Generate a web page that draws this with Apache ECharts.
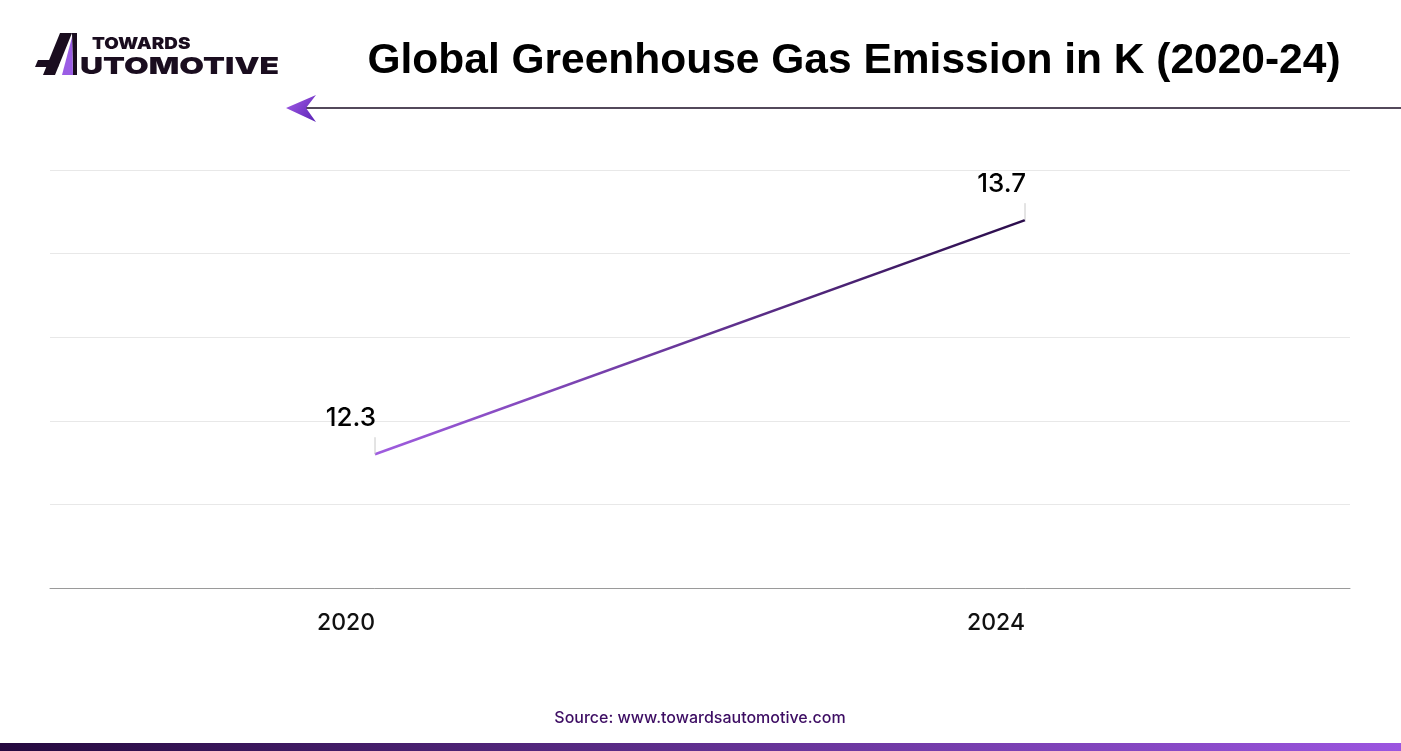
<!DOCTYPE html>
<html>
<head>
<meta charset="utf-8">
<script src="https://cdn.jsdelivr.net/npm/echarts@6/dist/echarts.min.js"></script>
<style>
html,body{margin:0;padding:0;background:#fff;}
#chart{width:1401px;height:751px;}
</style>
</head>
<body>
<div id="chart"></div>
<script>
const titleText = 'Global Greenhouse Gas Emission in K (2020-24)';
const sourceText = 'Source: www.towardsautomotive.com';
const categories = ['2020', '2024'];
const emissions = [12.3, 13.7];
const yMin = 11.5, yMax = 14, yInterval = 0.5;

const chart = echarts.init(document.getElementById('chart'));
const FONT = 'Inter, "Noto Sans", sans-serif';
const HFONT = '"Liberation Sans", Arial, sans-serif';

chart.setOption({
  backgroundColor: '#ffffff',
  animation: false,
  grid: { left: 50, right: 51, top: 170, bottom: 163 },
  xAxis: {
    type: 'category',
    data: categories,
    boundaryGap: true,
    axisLine: { show: true, lineStyle: { color: '#9a9a9a', width: 1 } },
    axisTick: { show: false },
    axisLabel: { color: '#111', fontSize: 23, fontFamily: FONT, fontWeight: 500, margin: 24, align: 'right' }
  },
  yAxis: {
    type: 'value',
    min: yMin, max: yMax, interval: yInterval,
    axisLine: { show: false },
    axisTick: { show: false },
    axisLabel: { show: false },
    splitLine: { show: true, lineStyle: { color: '#e8e8e8', width: 1 } }
  },
  graphic: [
    // logo "A" mark
    { type: 'polygon', shape: { points: [[60,33],[72,33],[55,75],[43,75]] }, style: { fill: '#1a0d1f' } },
    { type: 'polygon', shape: { points: [[38,60],[60,60],[58,67],[35,67]] }, style: { fill: '#1a0d1f' } },
    { type: 'polygon', shape: { points: [[72,33],[77,33],[77,75],[73,75]] }, style: { fill: '#1a0d1f' } },
    { type: 'polygon', shape: { points: [[72,37],[62,75],[73,75]] }, style: { fill: '#9b5de5' } },
    { type: 'text', x: 92, y: 44, scaleX: 1.14, style: { text: 'TOWARDS', fill: '#1a0d1f', font: '900 16.5px ' + FONT, textVerticalAlign: 'middle' } },
    { type: 'text', x: 80, y: 66.5, scaleX: 1.36, style: { text: 'UTOMOTIVE', fill: '#1a0d1f', font: '900 23.5px ' + FONT, textVerticalAlign: 'middle' } },
    // title
    { type: 'text', x: 854, y: 61, style: { text: titleText, fill: '#000', font: 'bold 42.5px ' + HFONT, textAlign: 'center', textVerticalAlign: 'middle' } },
    // arrow line
    { type: 'line', shape: { x1: 305, y1: 108, x2: 1401, y2: 108 }, style: { stroke: '#1a0d24', lineWidth: 1.5 } },
    { type: 'polygon', shape: { points: [[286,108],[316,95],[306,108],[316,122]] }, style: { fill: new echarts.graphic.LinearGradient(0,0,1,1,[{offset:0,color:'#a55ee8'},{offset:1,color:'#5a23b5'}]) } },
    // source
    { type: 'text', x: 700, y: 718, style: { text: sourceText, fill: '#3d0d63', font: '500 16px ' + FONT, textAlign: 'center', textVerticalAlign: 'middle' } },
    // bottom bar
    { type: 'rect', shape: { x: 0, y: 743, width: 1401, height: 8 }, style: { fill: new echarts.graphic.LinearGradient(0,0,1,0,[{offset:0,color:'#25093f'},{offset:1,color:'#9b55e0'}]) } }
  ],
  series: [
    {
      type: 'line',
      data: emissions,
      symbol: 'none',
      lineStyle: {
        width: 2.5,
        color: new echarts.graphic.LinearGradient(0,0,1,0,[{offset:0,color:'#a05de0'},{offset:1,color:'#2a0c4a'}])
      },
      z: 3
    },
    {
      type: 'custom',
      data: emissions.map((v, i) => [i, v]),
      renderItem: function (params, api) {
        const pt = api.coord([api.value(0), api.value(1)]);
        return {
          type: 'group',
          children: [
            { type: 'line', shape: { x1: pt[0], y1: pt[1], x2: pt[0], y2: pt[1] - 17 }, style: { stroke: '#c8c8c8', lineWidth: 1 } },
            { type: 'text', style: { x: pt[0] + 1, y: pt[1] - 36, text: String(api.value(1)), textAlign: 'right', textVerticalAlign: 'middle', fill: '#000', font: '500 26px ' + FONT } }
          ]
        };
      },
      z: 4
    }
  ]
});
</script>
</body>
</html>
